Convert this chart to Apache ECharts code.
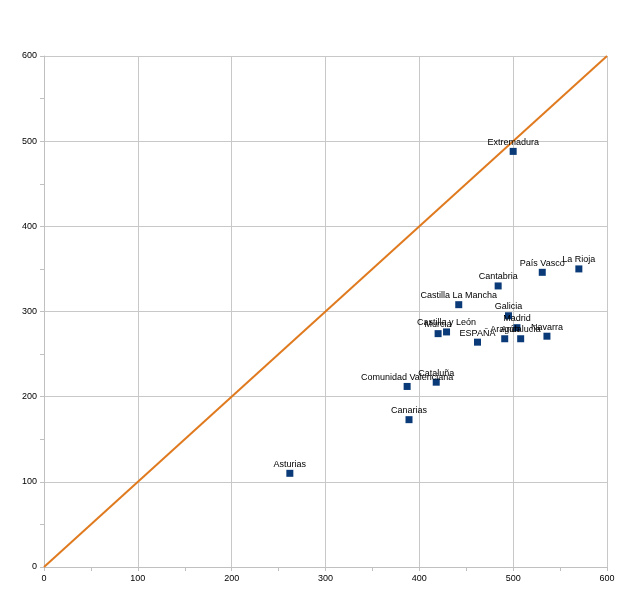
<!DOCTYPE html>
<html><head><meta charset="utf-8">
<script src="https://cdn.jsdelivr.net/npm/echarts@6/dist/echarts.min.js"></script>
<style>html,body{margin:0;padding:0;background:#fff}#c{width:640px;height:604px}</style>
</head><body><div id="c"></div>
<script>
const regions = ["Extremadura","País Vasco","La Rioja","Cantabria","Castilla La Mancha","Galicia","Madrid","Navarra","Aragón","Andalucía","ESPAÑA","Castilla y León","Murcia","Cataluña","Comunidad Valenciana","Canarias","Asturias"];
const xValues = [500, 531, 570, 484, 442, 495, 504, 536, 491, 508, 462, 429, 420, 418, 387, 389, 262];
const yValues = [488, 346, 350, 330, 308, 295, 281, 271, 268, 268, 264, 276, 274, 217, 212, 173, 110];
const refLine = [[0, 0], [600, 600]];
const ticks = [0, 100, 200, 300, 400, 500, 600];

const pts = regions.map((n, i) => ({name: n, value: [xValues[i], yValues[i]]}));
const font = "Liberation Sans";
const axisCommon = {
  min: 0, max: 600, interval: 100,
  axisLine: {show: true, lineStyle: {color: '#c0c0c0', width: 1}},
  axisTick: {show: true, length: 4, lineStyle: {color: '#c0c0c0'}},
  minorTick: {show: true, splitNumber: 2, length: 4, lineStyle: {color: '#c0c0c0'}},
  splitLine: {show: true, lineStyle: {color: '#c8c8c8', width: 1}},
  axisLabel: {color: '#000', fontSize: 9, fontFamily: font, margin: 7,
    formatter: v => ticks.includes(v) ? String(v) : ''}
};
const chart = echarts.init(document.getElementById('c'), null, {renderer: 'canvas'});
chart.setOption({
  animation: false,
  backgroundColor: '#fff',
  grid: {left: 44, right: 33, top: 56, bottom: 37},
  xAxis: Object.assign({type: 'value'}, axisCommon),
  yAxis: Object.assign({type: 'value'}, axisCommon),
  series: [
    {type: 'line', data: refLine, symbol: 'none', lineStyle: {color: '#e07a1f', width: 2}, z: 2},
    {type: 'scatter', data: pts, symbol: 'rect', symbolSize: 7,
     itemStyle: {color: '#0a3a78', opacity: 1}, z: 3,
     label: {show: true, position: 'top', distance: 1, formatter: p => p.name,
       color: '#000', fontSize: 9, fontFamily: font}}
  ]
});
</script></body></html>
